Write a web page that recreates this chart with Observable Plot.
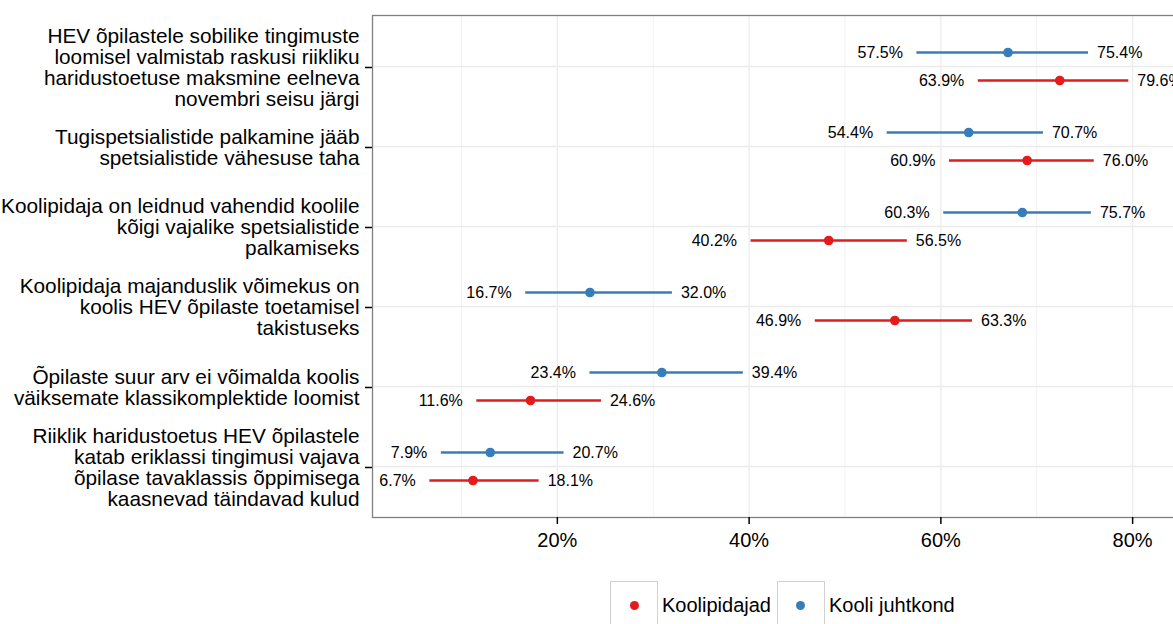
<!DOCTYPE html>
<html><head><meta charset="utf-8">
<script src="https://cdn.jsdelivr.net/npm/d3@7"></script>
<script src="https://cdn.jsdelivr.net/npm/@observablehq/plot@0.6"></script>
<style>
html,body{margin:0;padding:0;overflow:hidden;background:#fff;}
body{width:1173px;height:624px;font-family:"Liberation Sans",Arial,sans-serif;}
#wrap{width:1205px;}
#chart svg{display:block;}
.legend{display:flex;align-items:center;margin-top:19px;padding-left:610px;font-size:20px;color:#000;line-height:1;}
.key{box-sizing:border-box;width:48px;height:48px;border:1.5px solid #d2d2d2;display:flex;align-items:center;justify-content:center;}
.dot{width:9px;height:9px;border-radius:50%;}
.lab{margin-left:4px;margin-right:6px;}
</style>
</head><body>
<div id="wrap"><div id="chart"></div><div class="legend" id="legend"></div></div>
<script>
const categories = [
  "HEV õpilastele sobilike tingimuste\nloomisel valmistab raskusi riikliku\nharidustoetuse maksmine eelneva\nnovembri seisu järgi",
  "Tugispetsialistide palkamine jääb\nspetsialistide vähesuse taha",
  "Koolipidaja on leidnud vahendid koolile\nkõigi vajalike spetsialistide\npalkamiseks",
  "Koolipidaja majanduslik võimekus on\nkoolis HEV õpilaste toetamisel\ntakistuseks",
  "Õpilaste suur arv ei võimalda koolis\nväiksemate klassikomplektide loomist",
  "Riiklik haridustoetus HEV õpilastele\nkatab eriklassi tingimusi vajava\nõpilase tavaklassis õppimisega\nkaasnevad täindavad kulud"
];
const seriesNames = ["Koolipidajad", "Kooli juhtkond"];
const seriesColors = ["#E41A1C", "#377EB8"];

const juhtkondLow  = [57.5, 54.4, 60.3, 16.7, 23.4, 7.9];
const juhtkondEst  = [67.0, 62.9, 68.5, 23.4, 30.9, 13.0];
const juhtkondHigh = [75.4, 70.7, 75.7, 32.0, 39.4, 20.7];

const pidajadLow  = [63.9, 60.9, 40.2, 46.9, 11.6, 6.7];
const pidajadEst  = [72.4, 69.0, 48.3, 55.2, 17.2, 11.2];
const pidajadHigh = [79.6, 76.0, 56.5, 63.3, 24.6, 18.1];

const xMajorTicks = [20, 40, 60, 80];
const xMinorTicks = [10, 30, 50, 70];

const juhtkond = categories.map((c, i) => ({cat: c, lo: juhtkondLow[i], est: juhtkondEst[i], hi: juhtkondHigh[i]}));
const pidajad = categories.map((c, i) => ({cat: c, lo: pidajadLow[i], est: pidajadEst[i], hi: pidajadHigh[i]}));

const fmt = v => v.toFixed(1) + "%";

function seriesMarks(data, color, dy) {
  return [
    Plot.ruleY(data, {y: "cat", x1: "lo", x2: "hi", stroke: color, strokeWidth: 2.3, dy}),
    Plot.dot(data, {y: "cat", x: "est", fill: color, r: 4.8, dy}),
    Plot.text(data, {y: "cat", x: "lo", text: d => fmt(d.lo), textAnchor: "end", dx: -14, dy, fontSize: 16, fill: "#000"}),
    Plot.text(data, {y: "cat", x: "hi", text: d => fmt(d.hi), textAnchor: "start", dx: 8.5, dy, fontSize: 16, fill: "#000"})
  ];
}

const chart = Plot.plot({
  width: 1205,
  height: 562,
  marginLeft: 372,
  marginRight: 0,
  marginTop: 15,
  marginBottom: 45,
  style: {maxWidth: "none", fontFamily: "'Liberation Sans', Arial, sans-serif", color: "#000", background: "#fff"},
  x: {domain: [0.72, 87.6]},
  y: {type: "point", domain: categories, padding: 0.6},
  marks: [
    Plot.ruleX(xMinorTicks, {stroke: "#f2f2f2", strokeWidth: 1}),
    Plot.ruleX(xMajorTicks, {stroke: "#ebebeb", strokeWidth: 1.2}),
    Plot.ruleY(categories, {stroke: "#ebebeb", strokeWidth: 1.4}),
    ...seriesMarks(juhtkond, seriesColors[1], -14),
    ...seriesMarks(pidajad, seriesColors[0], 14),
    Plot.frame({stroke: "#808080", strokeWidth: 1.3}),
    Plot.axisX({ticks: xMajorTicks, tickFormat: d => d + "%", tickSize: 7, tickPadding: 8, fontSize: 20, label: null, strokeWidth: 1.5}),
    Plot.axisY({tickSize: 7, tickPadding: 6, fontSize: 20.8, lineHeight: 1.01, label: null, strokeWidth: 1.5, dy: 1})
  ]
});
document.getElementById("chart").appendChild(chart);

const legend = document.getElementById("legend");
seriesNames.forEach((name, i) => {
  const key = document.createElement("div");
  key.className = "key";
  const dot = document.createElement("div");
  dot.className = "dot";
  dot.style.background = seriesColors[i];
  key.appendChild(dot);
  const lab = document.createElement("span");
  lab.className = "lab";
  lab.textContent = name;
  legend.appendChild(key);
  legend.appendChild(lab);
});
</script>
</body></html>
